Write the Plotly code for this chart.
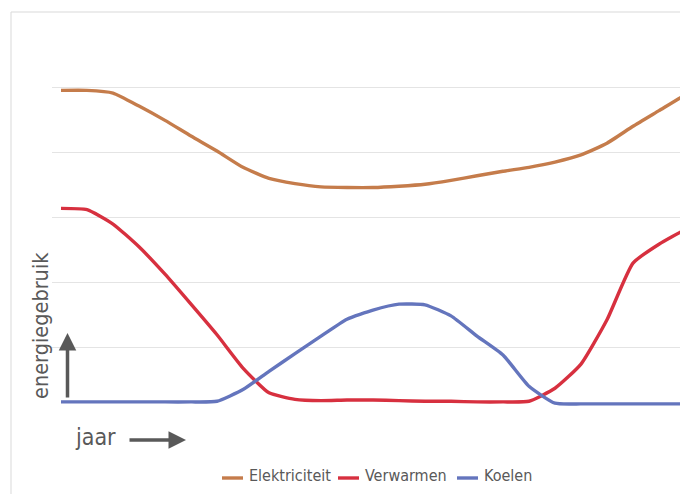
import plotly.graph_objects as go

# x positions in months (half-month steps)
maanden = [i * 0.5 for i in range(25)] + [12.5]

elektriciteit = [4.95, 4.95, 4.91, 4.71, 4.49, 4.25, 4.02, 3.77, 3.60, 3.52, 3.47, 3.46,
                 3.46, 3.48, 3.51, 3.57, 3.64, 3.71, 3.77, 3.85, 3.96, 4.14, 4.40, 4.64,
                 4.88, 5.08]
verwarmen = [3.14, 3.12, 2.90, 2.55, 2.13, 1.67, 1.20, 0.69, 0.31, 0.21, 0.19, 0.20,
             0.20, 0.19, 0.18, 0.18, 0.17, 0.17, 0.18, 0.38, 0.75, 1.43, 2.30, 2.59,
             2.81, 2.93]
koelen = [0.17, 0.17, 0.17, 0.17, 0.17, 0.17, 0.18, 0.36, 0.64, 0.91, 1.18, 1.44,
          1.58, 1.67, 1.66, 1.49, 1.18, 0.89, 0.41, 0.15, 0.14, 0.14, 0.14, 0.14,
          0.14, 0.14]

series = [
    ("Elektriciteit", elektriciteit, "#C57C4B"),
    ("Verwarmen", verwarmen, "#D7303F"),
    ("Koelen", koelen, "#6475BD"),
]

FONT = "Liberation Sans Narrow, DejaVu Sans Condensed, Arial Narrow, sans-serif"
GREY = "#595959"

fig = go.Figure()
for name, vals, col in series:
    fig.add_trace(go.Scatter(
        x=maanden, y=vals, name=name, mode="lines",
        line=dict(color=col, width=3.4, shape="spline", smoothing=0.5),
        hoverinfo="skip", showlegend=False,
    ))

OFF = 8  # page offset of the figure (body margin)
W, H = 680, 486
L, R, T, B = 44, 0, 14, 81
pw, ph = W - L - R, H - T - B


def px(x):
    """page x pixel -> paper coordinate"""
    return (x - OFF - L) / pw


def py(y):
    """page y pixel -> paper coordinate"""
    return (H - B - (y - OFF)) / ph


annotations = [
    dict(text="energiegebruik", xref="paper", yref="paper", x=px(40), y=py(326),
         textangle=-90, showarrow=False, font=dict(size=21.5, color=GREY, family=FONT),
         xanchor="center", yanchor="middle"),
    dict(text="jaar", xref="paper", yref="paper", x=px(95), y=py(437),
         showarrow=False, font=dict(size=23, color=GREY, family=FONT),
         xanchor="center", yanchor="middle"),
    dict(text="", xref="paper", yref="paper", x=px(67.5), y=py(333),
         showarrow=True, ax=0, ay=66, axref="pixel", ayref="pixel",
         arrowhead=2, arrowsize=1, arrowwidth=3.5, arrowcolor=GREY),
    dict(text="", xref="paper", yref="paper", x=px(186), y=py(440),
         showarrow=True, ax=-58, ay=0, axref="pixel", ayref="pixel",
         arrowhead=2, arrowsize=1, arrowwidth=3.5, arrowcolor=GREY),
]
shapes = [
    dict(type="line", xref="paper", yref="paper", x0=px(11), x1=px(11),
         y0=py(12), y1=py(500), line=dict(color="#D9D9D9", width=1)),
    dict(type="line", xref="paper", yref="paper", x0=px(11), x1=px(700),
         y0=py(12), y1=py(12), line=dict(color="#D9D9D9", width=1)),
]

# legend drawn by hand (short line symbol + label), as in the reference
legend_x = [222, 338, 457]
for (name, _, col), lx in zip(series, legend_x):
    shapes.append(dict(type="line", xref="paper", yref="paper",
                       x0=px(lx), x1=px(lx + 21), y0=py(478), y1=py(478),
                       line=dict(color=col, width=3.4)))
    annotations.append(dict(text=name, xref="paper", yref="paper",
                            x=px(lx + 25), y=py(475), xanchor="left", yanchor="middle",
                            showarrow=False, font=dict(size=16, color=GREY, family=FONT)))

fig.update_layout(
    width=W, height=H,
    margin=dict(l=L, r=R, t=T, b=B, pad=0, autoexpand=False),
    paper_bgcolor="white", plot_bgcolor="white",
    font=dict(family=FONT, color=GREY),
    showlegend=False,
    xaxis=dict(range=[-0.173, 12.058], showgrid=False, zeroline=False,
               showticklabels=False, ticks="", showline=False, fixedrange=True),
    yaxis=dict(range=[0, 6], dtick=1, showgrid=True, gridcolor="#E4E4E4", gridwidth=1,
               zeroline=False, showticklabels=False, ticks="", showline=False),
    annotations=annotations,
    shapes=shapes,
)

fig.write_html("out.html")
